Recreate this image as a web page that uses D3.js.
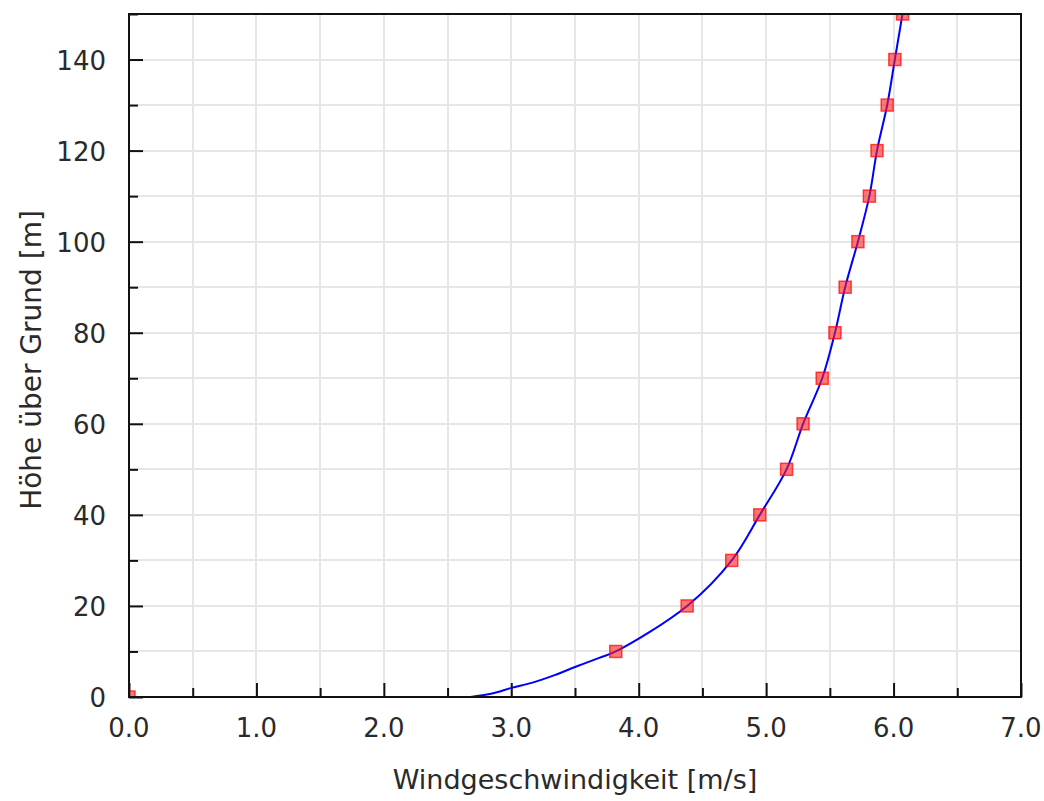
<!DOCTYPE html>
<html>
<head>
<meta charset="UTF-8"/>
<script src="https://d3js.org/d3.v7.min.js"></script>
<style>
body { margin: 0; background: #fff; }
text { font-family: 'DejaVu Sans', sans-serif; fill: #2a2a2a; }
.grid line { stroke: #e6e6e6; stroke-width: 2; shape-rendering: crispEdges; }
</style>
</head>
<body>
<svg id='chart' width=1044 height=801></svg>
<script>
'use strict';

// measured points (height above ground in m, wind speed in m/s)
var hoehe = [0, 10, 20, 30, 40, 50, 60, 70, 80, 90, 100, 110, 120, 130, 140, 150];
var speed = [0, 3.82, 4.38, 4.73, 4.95, 5.16, 5.29, 5.44, 5.54, 5.62, 5.72, 5.81, 5.87, 5.95, 6.01, 6.07];

// profile curve
var curveH = [0, 0.7, 2.0, 3.1, 4.8, 6.8, 8.6, 10, 20, 30, 40, 50, 60, 70, 80, 90, 100, 110, 120, 130, 140, 150];
var curveV = [2.68, 2.84, 3.0, 3.16, 3.34, 3.52, 3.69, 3.82, 4.38, 4.73, 4.95, 5.16, 5.29, 5.44, 5.54, 5.62, 5.72, 5.81, 5.87, 5.95, 6.01, 6.07];

var xMajor = [0, 1, 2, 3, 4, 5, 6, 7];
var yMajor = [0, 20, 40, 60, 80, 100, 120, 140];

var svg = d3.select('#chart');
var pLeft = 129, pRight = 1021, pTop = 14, pBottom = 697;

var sx = d3.scaleLinear().domain([0, 7]).range([pLeft, pRight]);
var sy = d3.scaleLinear().domain([0, 150]).range([pBottom, pTop]);

svg.append('defs').append('clipPath').attr('id', 'plot')
	.append('rect')
	.attr('x', pLeft).attr('y', pTop)
	.attr('width', pRight - pLeft).attr('height', pBottom - pTop);

var grid = svg.append('g').attr('class', 'grid');
grid.selectAll('.vx')
	.data(d3.range(0.5, 7, 0.5))
	.enter().append('line')
	.attr('x1', function(d){ return sx(d); })
	.attr('x2', function(d){ return sx(d); })
	.attr('y1', pTop).attr('y2', pBottom);
grid.selectAll('.hy')
	.data(d3.range(10, 150, 10))
	.enter().append('line')
	.attr('x1', pLeft).attr('x2', pRight)
	.attr('y1', function(d){ return sy(d); })
	.attr('y2', function(d){ return sy(d); });

// ticks, pointing inward
var xAxis = d3.axisBottom(sx).tickValues(d3.range(0, 7.01, 0.5))
	.tickSizeInner(-9).tickSizeOuter(0).tickFormat('');
var gx = svg.append('g').attr('transform', 'translate(0,' + pBottom + ')').call(xAxis);
gx.selectAll('.tick line').attr('y2', function(d){ return d % 1 === 0 ? -14 : -9; });

var yAxis = d3.axisLeft(sy).tickValues(d3.range(0, 150.01, 10))
	.tickSizeInner(-9).tickSizeOuter(0).tickFormat('');
var gy = svg.append('g').attr('transform', 'translate(' + pLeft + ',0)').call(yAxis);
gy.selectAll('.tick line').attr('x2', function(d){ return d % 20 === 0 ? 14 : 9; });

svg.selectAll('.domain').remove();
svg.selectAll('.tick line').attr('stroke', '#111').attr('stroke-width', 2);

svg.selectAll('.xlab')
	.data(xMajor)
	.enter().append('text')
	.attr('x', function(d){ return sx(d); })
	.attr('y', 737)
	.attr('text-anchor', 'middle')
	.attr('font-size', 26)
	.text(function(d){ return d3.format('.1f')(d); });

svg.selectAll('.ylab')
	.data(yMajor)
	.enter().append('text')
	.attr('x', 106)
	.attr('y', function(d){ return sy(d) + 10; })
	.attr('text-anchor', 'end')
	.attr('font-size', 26)
	.text(function(d){ return d; });

svg.append('text')
	.attr('x', (pLeft + pRight) / 2)
	.attr('y', 789)
	.attr('text-anchor', 'middle')
	.attr('font-size', 27)
	.text('Windgeschwindigkeit [m/s]');

svg.append('text')
	.attr('transform', 'translate(41,360) rotate(-90)')
	.attr('text-anchor', 'middle')
	.attr('font-size', 28)
	.text('Höhe über Grund [m]');

var plot = svg.append('g').attr('clip-path', 'url(#plot)');

var line = d3.line()
	.x(function(d){ return sx(d[0]); })
	.y(function(d){ return sy(d[1]); })
	.curve(d3.curveCatmullRom.alpha(0.5));

plot.append('path')
	.datum(d3.zip(curveV, curveH))
	.attr('d', line)
	.attr('fill', 'none')
	.attr('stroke', '#0000ff')
	.attr('stroke-width', 2);

plot.selectAll('.pt')
	.data(d3.zip(speed, hoehe))
	.enter().append('rect')
	.attr('x', function(d){ return sx(d[0]) - 6; })
	.attr('y', function(d){ return sy(d[1]) - 6; })
	.attr('width', 12).attr('height', 12)
	.attr('fill', 'rgba(255,30,30,0.6)')
	.attr('stroke', 'rgba(255,0,0,0.7)')
	.attr('stroke-width', 1.5);

// frame
svg.append('rect')
	.attr('x', pLeft).attr('y', pTop)
	.attr('width', pRight - pLeft).attr('height', pBottom - pTop)
	.attr('fill', 'none')
	.attr('stroke', '#111')
	.attr('stroke-width', 2);
</script>
</body>
</html>
